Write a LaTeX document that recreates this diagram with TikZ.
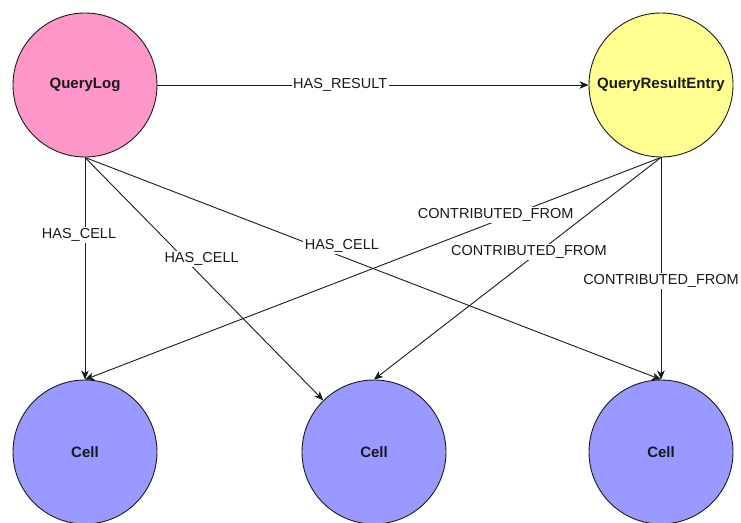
\documentclass[tikz,border=0pt]{standalone}
\usepackage{fontspec}
\setmainfont{Liberation Sans}
\usetikzlibrary{arrows.meta}
\definecolor{qlpink}{HTML}{FF96C9}
\definecolor{qreyellow}{HTML}{FFFF91}
\definecolor{cellblue}{HTML}{9999FF}
\definecolor{edgeline}{HTML}{1A1A1A}
\begin{document}
\begin{tikzpicture}[x=1pt,y=-1pt,
  entity/.style={circle,draw=edgeline,line width=0.9pt,minimum size=144pt,inner sep=0pt,
    font=\fontsize{15}{18}\selectfont\bfseries,text=black!90},
  rel/.style={draw=edgeline,line width=0.9pt,-{Stealth[length=9pt,width=7.5pt,inset=2.5pt]}},
  lbl/.style={fill=white,inner sep=1.5pt,font=\fontsize{14.5}{17}\selectfont,text=black!90}]
\fill[white] (0,0) rectangle (741,522);
\useasboundingbox (0,0) rectangle (741,522);
\node[entity,fill=qlpink] (ql) at (85,85) {QueryLog};
\node[entity,fill=qreyellow] (qre) at (661,85) {QueryResultEntry};
\node[entity,fill=cellblue] (c1) at (85,452) {Cell};
\node[entity,fill=cellblue] (c2) at (374,452) {Cell};
\node[entity,fill=cellblue] (c3) at (661,452) {Cell};
\draw[rel] (ql.east) -- node[lbl,pos=0.424] (l1) {HAS\_RESULT} (qre.west);
\draw[rel] (ql.south) -- node[lbl,pos=0.35,xshift=-6pt] (l2) {HAS\_CELL} (c1.north);
\draw[rel] (ql.south) -- node[lbl,pos=0.418,xshift=17pt] (l3) {HAS\_CELL} (c2);
\draw[rel] (ql.south) -- node[lbl,pos=0.446,yshift=11pt] (l4) {HAS\_CELL} (c3.north);
\draw[rel] (qre.south) -- node[lbl,pos=0.287,yshift=6pt] (l5) {CONTRIBUTED\_FROM} (c1.north);
\draw[rel] (qre.south) -- node[lbl,pos=0.46,yshift=8pt] (l6) {CONTRIBUTED\_FROM} (c2.north);
\draw[rel] (qre.south) -- node[lbl,pos=0.556] (l7) {CONTRIBUTED\_FROM} (c3.north);
\end{tikzpicture}
\end{document}
